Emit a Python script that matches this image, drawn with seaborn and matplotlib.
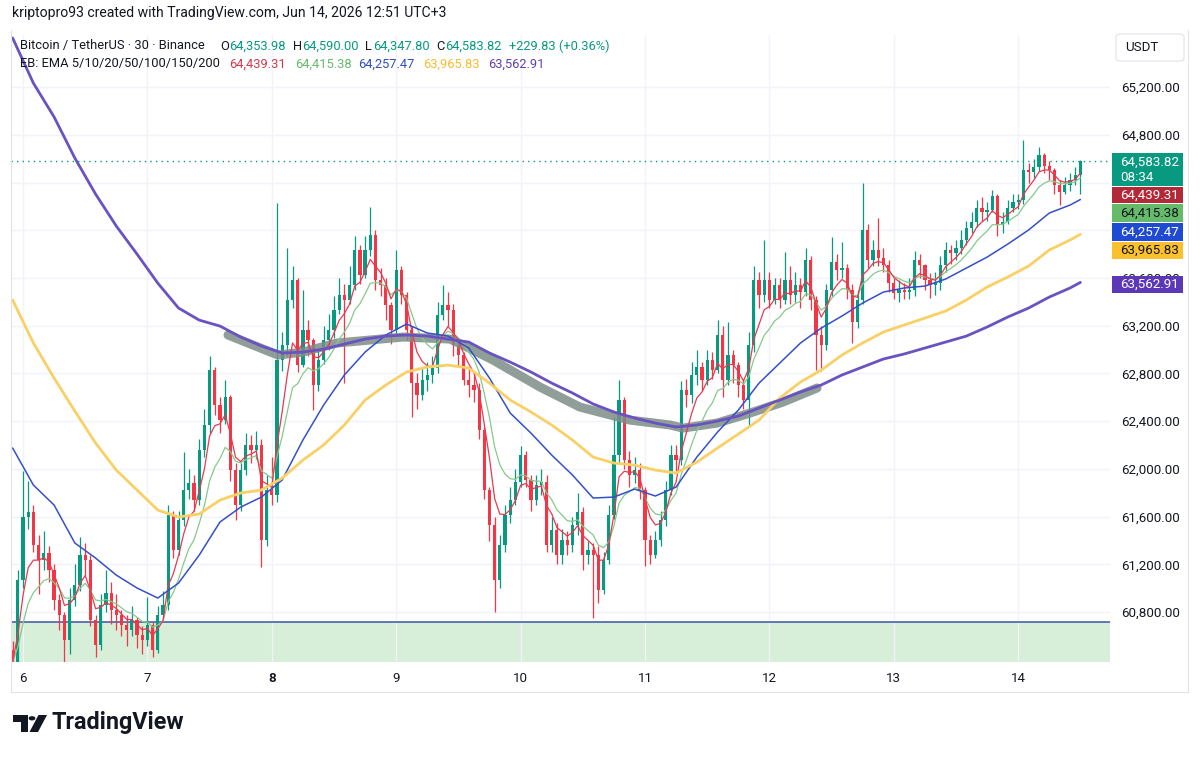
import numpy as np
import pandas as pd
import matplotlib
matplotlib.use("Agg")
import matplotlib.pyplot as plt
import seaborn as sns
from matplotlib.patches import Rectangle, Polygon, Circle, FancyBboxPatch
from matplotlib.lines import Line2D

# ---- data (BTC/USDT, resampled to 1h candles) ----
first_open = 60480
closes = [60381, 61069, 61596, 61638, 61362, 61236, 61295, 61152, 60901, 60775,
          60566, 60901, 61027, 61278, 61236, 60733, 60524, 60859, 60960, 60817,
          60775, 60691, 60649, 60733, 60608, 60566, 60691, 60482, 60775, 60859,
          61613, 61320, 61571, 61823, 61881, 61739, 62158, 62368, 62828, 62535,
          62409, 62602, 61990, 61697, 61990, 62200, 62158, 62200, 61404, 61823,
          61781, 62912, 63038, 63415, 63583, 62870, 63164, 63080, 62702, 62912,
          63080, 63164, 63331, 63457, 63415, 63541, 63834, 63625, 63834, 63960,
          63583, 63541, 63373, 63164, 63666, 63457, 63164, 62719, 62619, 62745,
          62787, 62845, 63289, 63373, 63331, 63038, 62954, 62745, 62703, 62661,
          62326, 61823, 61529, 61069, 61362, 61613, 61739, 61890, 62116, 61907,
          61739, 61865, 61890, 61362, 61488, 61278, 61404, 61362, 61529, 61638,
          61278, 61320, 61278, 60985, 61236, 61613, 62116, 62577, 62074, 61949,
          61990, 61823, 61404, 61278, 61404, 61571, 61823, 62116, 62074, 62661,
          62619, 62787, 62854, 62745, 62912, 62828, 63122, 62745, 62954, 62870,
          62703, 62577, 63038, 63583, 63457, 63583, 63415, 63541, 63415, 63583,
          63457, 63541, 63482, 63750, 63415, 63122, 63038, 63499, 63733, 63666,
          63683, 63499, 63231, 63415, 64002, 63750, 63834, 63767, 63708, 63558,
          63474, 63499, 63482, 63499, 63750, 63708, 63583, 63541, 63558, 63708,
          63834, 63809, 63851, 63918, 64018, 64069, 64186, 64153, 64169, 64287,
          64044, 64069, 64186, 64236, 64253, 64504, 64488, 64530, 64630, 64538,
          64504, 64378, 64320, 64378, 64421, 64462, 64583.82]
highs = [60560, 61150, 61980, 61900, 61700, 61450, 61480, 61350, 61200, 60950,
         60800, 61000, 61200, 61430, 61380, 61280, 60780, 60950, 61150, 61050,
         60950, 60820, 60780, 60850, 60760, 60680, 60930, 60720, 60850, 60980,
         61700, 61650, 61650, 62140, 62000, 61950, 62250, 62500, 62950, 62850,
         62600, 62745, 62620, 62050, 62050, 62300, 62280, 62320, 62250, 61950,
         62100, 64228, 63150, 63851, 63700, 63600, 63500, 63250, 63100, 63000,
         63200, 63300, 63450, 63600, 63550, 63700, 63950, 63880, 63950, 64194,
         64000, 63680, 63600, 63400, 63834, 63700, 63480, 63200, 62800, 62850,
         62900, 62950, 63400, 63545, 63480, 63380, 63100, 62980, 62850, 62800,
         62720, 62350, 61850, 61600, 61450, 61700, 61850, 62000, 62188, 62150,
         61950, 61950, 62000, 61950, 61600, 61550, 61500, 61480, 61600, 61798,
         61680, 61400, 61380, 61350, 61300, 61700, 62434, 62745, 62600, 62150,
         62100, 62050, 61850, 61450, 61480, 61650, 61900, 62200, 62200, 62740,
         62750, 62900, 62996, 62900, 63000, 62980, 63247, 63200, 63231, 63000,
         62900, 62750, 63150, 63700, 63650, 63918, 63650, 63600, 63600, 63820,
         63700, 63650, 63600, 63851, 63780, 63450, 63200, 63550, 63943, 63800,
         63900, 63720, 63550, 63500, 64395, 64050, 63920, 64100, 63850, 63750,
         63600, 63580, 63560, 63600, 63830, 63800, 63720, 63640, 63650, 63780,
         63900, 63880, 63920, 64000, 64080, 64150, 64250, 64280, 64240, 64337,
         64300, 64150, 64250, 64300, 64300, 64756, 64560, 64600, 64697, 64650,
         64580, 64520, 64420, 64450, 64480, 64530, 64590]
lows = [60250, 60300, 61000, 61500, 61300, 60950, 61150, 61050, 60820, 60650,
        60300, 60450, 60850, 60980, 61100, 60680, 60420, 60480, 60800, 60700,
        60650, 60600, 60520, 60600, 60500, 60450, 60520, 60420, 60460, 60740,
        60820, 61250, 61280, 61520, 61750, 61650, 61700, 62100, 62300, 62450,
        62300, 62380, 61900, 61571, 61650, 61950, 62050, 62080, 61178, 61350,
        61700, 61720, 62820, 62950, 63350, 62812, 62850, 62950, 62493, 62650,
        62880, 63000, 63100, 63300, 62721, 63380, 63500, 63550, 63600, 63780,
        63500, 63450, 63250, 63050, 63120, 63380, 63080, 62434, 62500, 62580,
        62650, 62720, 62800, 63250, 63200, 62950, 62850, 62700, 62600, 62560,
        62250, 61750, 61400, 60800, 61000, 61300, 61550, 61700, 61850, 61850,
        61650, 61700, 61780, 61300, 61300, 61200, 61200, 61280, 61300, 61450,
        61150, 61200, 60750, 60880, 60950, 61200, 61580, 62050, 62000, 61850,
        61880, 61750, 61189, 61200, 61250, 61350, 61520, 61780, 61980, 62030,
        62520, 62550, 62700, 62650, 62700, 62750, 62800, 62600, 62700, 62720,
        62600, 62500, 62351, 62980, 63350, 63400, 63350, 63380, 63350, 63380,
        63380, 63400, 63350, 63450, 63330, 62830, 62820, 63000, 63450, 63580,
        63600, 63420, 63054, 63180, 63380, 63680, 63700, 63700, 63650, 63480,
        63420, 63400, 63420, 63420, 63450, 63600, 63500, 63431, 63460, 63500,
        63650, 63720, 63750, 63800, 63880, 63980, 64030, 64080, 64080, 64150,
        63950, 63980, 64050, 64150, 64180, 64220, 64400, 64440, 64500, 64480,
        64420, 64300, 64211, 64300, 64330, 64380, 64300]

# slow EMAs read every 4 hours (they carry history from before the window)
ema_hours = list(range(0, 205, 4)) + [206]
ema20_vals = [62175, 61865, 61697, 61379, 61253, 61110, 61002, 60918, 61043, 61278,
              61555, 61680, 61764, 61907, 62242, 62535, 62787, 62979, 63122, 63214,
              63139, 63113, 63013, 62761, 62468, 62300, 62116, 61949, 61756, 61764,
              61831, 61773, 61848, 62099, 62309, 62493, 62719, 62887, 63055, 63180,
              63281, 63390, 63482, 63516, 63532, 63591, 63683, 63775, 63884, 64002,
              64144, 64211, 64257.47]
ema50_vals = [63415, 63055, 62761, 62485, 62217, 61990, 61823, 61655, 61597, 61622,
              61739, 61798, 61823, 61923, 62074, 62200, 62368, 62577, 62703, 62812,
              62854, 62870, 62845, 62719, 62577, 62477, 62368, 62242, 62099, 62049,
              62032, 61990, 61965, 62057, 62175, 62292, 62409, 62594, 62728, 62828,
              62954, 63055, 63147, 63206, 63264, 63323, 63415, 63524, 63608, 63700,
              63834, 63918, 63965.83]
ema200_vals = [65611, 65233, 64949, 64605, 64303, 64035, 63800, 63557, 63348, 63247,
               63197, 63105, 63030, 62971, 62979, 63004, 63046, 63088, 63113, 63122,
               63113, 63088, 63063, 62971, 62895, 62812, 62719, 62636, 62544, 62477,
               62426, 62384, 62351, 62368, 62401, 62443, 62510, 62577, 62644, 62703,
               62787, 62854, 62921, 62963, 63013, 63063, 63113, 63189, 63273, 63348,
               63440, 63516, 63562.91]

# hand-drawn grey brush along the EMA 200
brush_t = [7.648, 8.050, 8.251, 8.524, 8.789, 9.055, 9.432, 9.569, 9.778, 10.156,
           10.477, 10.879, 11.201, 11.305, 11.579, 11.844, 12.109, 12.383]
brush_p = [63122, 62954, 62979, 63055, 63080, 63105, 63088, 63021, 62912, 62686,
           62518, 62409, 62368, 62342, 62384, 62468, 62560, 62678]

zone_top = 60716
last_price = 64583.82
day_labels = ["6", "7", "8", "9", "10", "11", "12", "13", "14"]
price_ticks = [60800, 61200, 61600, 62000, 62400, 62800, 63200, 63600, 64000, 64400, 64800, 65200]
hidden_ticks = [64000, 64400]  # covered by the price tags in the screenshot

UP, DOWN = "#089981", "#f23645"
TXT = "#131722"

# ---- figure ----
sns.set_theme(style="white")
plt.rcParams["font.family"] = ["Roboto", "DejaVu Sans"]

W, H = 1200, 757
fig = plt.figure(figsize=(W / 100, H / 100), dpi=100)
ax = fig.add_axes([11 / W, 95 / H, 1099 / W, 627 / H])


def fx(x):
    return x / W


def fy(y):
    return 1 - y / H


t0 = 5 + 22 / 24
n = len(closes)
t = t0 + np.arange(n) / 24
c = np.array(closes, dtype=float)
o = np.array([first_open] + closes[:-1], dtype=float)
hi = np.maximum(np.array(highs, dtype=float), np.maximum(o, c))
lo = np.minimum(np.array(lows, dtype=float), np.minimum(o, c))
col = np.where(c >= o, UP, DOWN)

# green zone + its top line
ax.axhspan(60000, zone_top, color="#d7eed8", lw=0, zorder=0.5)
ax.axhline(zone_top, color="#3a55a4", lw=1.1, zorder=1)

# candles
ax.vlines(t, lo, hi, colors=col, lw=0.9, zorder=2)
ax.bar(t, np.maximum(np.abs(c - o), 12), bottom=np.minimum(o, c), width=0.62 / 24,
       color=col, lw=0, zorder=2)

# brush highlight
ax.plot(brush_t, brush_p, color="#7d8d88", lw=6.5, alpha=0.85,
        solid_capstyle="round", zorder=2.6)

# EMAs
close_s = pd.Series(closes)
fast = pd.DataFrame({"t": t, "v": close_s.ewm(span=5, adjust=False).mean()})
mid = pd.DataFrame({"t": t, "v": close_s.ewm(span=10, adjust=False).mean()})
ema_t = t0 + np.array(ema_hours) / 24
sns.lineplot(data=mid, x="t", y="v", ax=ax, color="#86c98a", lw=0.9, zorder=3)
sns.lineplot(data=fast, x="t", y="v", ax=ax, color="#e8394f", lw=0.9, zorder=3)
sns.lineplot(x=ema_t, y=ema20_vals, ax=ax, color="#3550c8", lw=1.1, zorder=3)
sns.lineplot(x=ema_t, y=ema50_vals, ax=ax, color="#f9d065", lw=2.0, zorder=3)
sns.lineplot(x=ema_t, y=ema200_vals, ax=ax, color="#6a52c0", lw=2.0, zorder=3)

# last price dotted line
ax.axhline(last_price, color=UP, lw=1, ls=(0, (1, 3)), zorder=3)

ax.set_xlim(5.9035, 14.738)
ax.set_ylim(60382, 65636)
ax.set_xlabel("")
ax.set_ylabel("")
for s in ax.spines.values():
    s.set_visible(False)

ax.set_xticks(range(6, 15))
ax.set_xticklabels(day_labels)
ax.set_yticks(price_ticks)
ax.set_yticklabels(["" if p in hidden_ticks else f"{p:,.2f}" for p in price_ticks])
ax.yaxis.tick_right()
ax.tick_params(axis="x", length=0, pad=7, labelsize=9.6, labelcolor=TXT)
ax.tick_params(axis="y", length=0, pad=8, labelsize=9.6, labelcolor=TXT)
for lbl in ax.get_xticklabels():
    if lbl.get_text() == "8":
        lbl.set_fontweight("bold")
ax.grid(True, color="#f0f3fa", lw=1)
ax.set_axisbelow(True)

# chart frame
for (x1, y1, x2, y2) in [(11, 30, 11, 692), (11, 692, 1188, 692), (1188, 30, 1188, 692)]:
    fig.add_artist(Line2D([fx(x1), fx(x2)], [fy(y1), fy(y2)], color="#e0e3eb", lw=0.8))

# header texts
fs = 9.3
fig.text(fx(12), fy(13), "kriptopro93 created with TradingView.com, Jun 14, 2026 12:51 UTC+3",
         fontsize=10.1, color=TXT, va="center")
fig.text(fx(20), fy(46), "Bitcoin / TetherUS · 30 · Binance", fontsize=fs, color=TXT, va="center")
for x, k, v, dx in [(220, "O", "64,353.98", 9.5), (293, "H", "64,590.00", 9.5),
                    (365, "L", "64,347.80", 8), (436, "C", "64,583.82", 9)]:
    fig.text(fx(x), fy(46), k, fontsize=fs, color=TXT, va="center")
    fig.text(fx(x + dx), fy(46), v, fontsize=fs, color=UP, va="center")
fig.text(fx(509), fy(46), "+229.83 (+0.36%)", fontsize=fs, color=UP, va="center")
fig.text(fx(20), fy(64), "EB: EMA 5/10/20/50/100/150/200", fontsize=fs, color=TXT, va="center")
for x, v, cc in [(229, "64,439.31", "#d23a4a"), (295, "64,415.38", "#66bb6a"),
                 (358, "64,257.47", "#2f4fc4"), (423, "63,965.83", "#f5bd2f"),
                 (488, "63,562.91", "#5e3fb3")]:
    fig.text(fx(x), fy(64), v, fontsize=fs, color=cc, va="center")

# USDT box
fig.patches.append(FancyBboxPatch((fx(1116), fy(61)), fx(68), 27 / H,
                                  boxstyle="round,pad=0,rounding_size=0.004",
                                  transform=fig.transFigure, fc="white", ec="#e0e3eb", lw=0.8))
fig.text(fx(1125), fy(47.5), "USDT", fontsize=9.6, color=TXT, va="center")

# price tags on the scale
tags = [(153, 186, UP, "white"), (187, 203, "#b22a38", "white"),
        (204, 222, "#66bb6a", TXT), (223, 241, "#1e4bd2", "white"),
        (242, 259, "#fbc02d", TXT), (276, 293, "#5b38b8", "white")]
tag_txt = ["64,583.82", "64,439.31", "64,415.38", "64,257.47", "63,965.83", "63,562.91"]
for (y1, y2, fc, tc), txt in zip(tags, tag_txt):
    fig.patches.append(Rectangle((fx(1112), fy(y2)), fx(71), (y2 - y1) / H,
                                 transform=fig.transFigure, fc=fc, ec="none"))
    yc = 162 if y1 == 153 else (y1 + y2) / 2
    fig.text(fx(1120), fy(yc), txt, fontsize=9.6, color=tc, va="center")
fig.text(fx(1120), fy(177.5), "08:34", fontsize=9.6, color="white", va="center")

# TradingView logo
logo = "#131722"
fig.patches.append(Polygon([(fx(13), fy(715)), (fx(28), fy(715)), (fx(28), fy(732)),
                            (fx(21), fy(732)), (fx(21), fy(721.5)), (fx(13), fy(721.5))],
                           closed=True, transform=fig.transFigure, fc=logo, ec="none"))
fig.patches.append(Circle((fx(32), fy(718.3)), 3.4 / W, transform=fig.transFigure,
                          fc=logo, ec="none"))
fig.patches.append(Polygon([(fx(38.5), fy(715)), (fx(47), fy(715)), (fx(38), fy(732)),
                            (fx(29.5), fy(732))],
                           closed=True, transform=fig.transFigure, fc=logo, ec="none"))
fig.text(fx(52), fy(723), "TradingView", fontsize=16.8, fontweight="bold", color=logo, va="center")

fig.savefig("out.png", dpi=100, facecolor="white")
